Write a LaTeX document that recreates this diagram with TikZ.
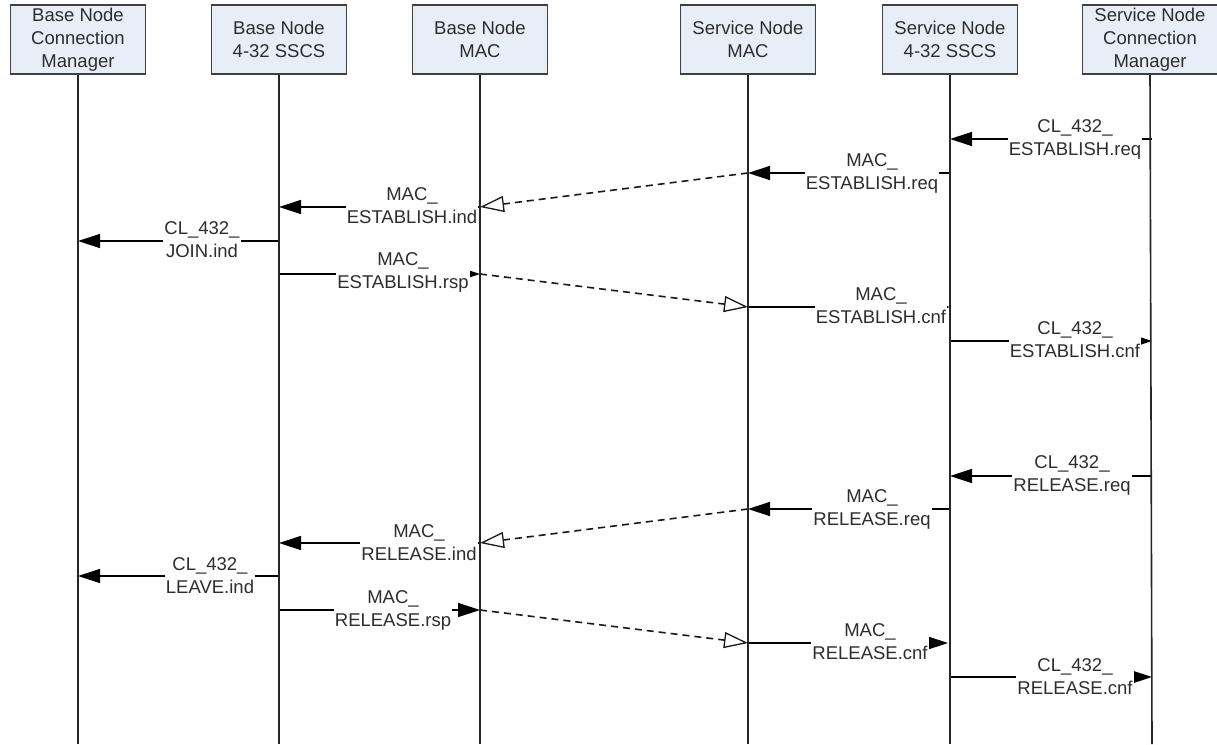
\documentclass[tikz,border=0pt]{standalone}
\usepackage{fontspec}
\setmainfont{Liberation Sans}
\usetikzlibrary{arrows.meta}
\definecolor{headfill}{RGB}{232,238,248}
\definecolor{ink}{RGB}{45,45,45}
\tikzset{
  header/.style={draw=black!75, line width=1.8pt, fill=headfill,
    minimum width=135pt, minimum height=69pt, inner sep=0pt, align=center,
    font=\fontsize{18.5}{23}\selectfont, text=ink, anchor=north},
  lifeline/.style={draw=black!85, line width=1.6pt},
  callmsg/.style={draw=black, line width=1.3pt,
    -{Triangle[length=22pt,width=14pt]}},
  signal/.style={draw=black!90, line width=1.6pt, dash pattern=on 7pt off 5pt,
    -{Triangle[open,length=24pt,width=16pt,line width=1.3pt]}},
  msglabel/.style={fill=white, inner sep=1pt, align=center,
    font=\fontsize{18.5}{23}\selectfont, text=ink},
}
\begin{document}
\begin{tikzpicture}[x=1pt,y=-1pt]
\useasboundingbox (0,0) rectangle (1217,744);

% participants
\node[header] (h1) at (78,4)   {Base Node\\Connection\\Manager};
\node[header] (h2) at (279,4)  {Base Node\\4-32 SSCS};
\node[header] (h3) at (480,4)  {Base Node\\MAC};
\node[header] (h4) at (748,4)  {Service Node\\MAC};
\node[header] (h5) at (950,4)  {Service Node\\4-32 SSCS};
\node[header] (h6) at (1150,4) {Service Node\\Connection\\Manager};

\coordinate (b1) at (78,744);
\coordinate (b2) at (279,744);
\coordinate (b3) at (480,744);
\coordinate (b4) at (748,744);
\coordinate (b5) at (950,744);
\coordinate (b6) at (1152,744);

% connection establishment
\coordinate (a1s) at (1152,139); \coordinate (a1e) at (950,139);
\coordinate (a2s) at (950,173);  \coordinate (a2e) at (748,173);
\coordinate (a3s) at (748,173);  \coordinate (a3e) at (480,207);
\coordinate (a4s) at (480,207);  \coordinate (a4e) at (279,207);
\coordinate (a5s) at (279,241);  \coordinate (a5e) at (78,241);
\coordinate (a6s) at (279,274);  \coordinate (a6e) at (480,274);
\coordinate (a7s) at (480,274);  \coordinate (a7e) at (748,307);
\coordinate (a8s) at (748,307);  \coordinate (a8e) at (950,307);
\coordinate (a9s) at (950,341);  \coordinate (a9e) at (1152,341);

\draw[callmsg] (a1s) -- (a1e);
\draw[callmsg] (a2s) -- (a2e);
\draw[signal]  (a3s) -- (a3e);
\draw[callmsg] (a4s) -- (a4e);
\draw[callmsg] (a5s) -- (a5e);
\draw[callmsg] (a6s) -- (a6e);
\draw[signal]  (a7s) -- (a7e);
\draw[callmsg] (a8s) -- (a8e);
\draw[callmsg] (a9s) -- (a9e);

% connection release
\coordinate (r1s) at (1152,476); \coordinate (r1e) at (950,476);
\coordinate (r2s) at (950,509);  \coordinate (r2e) at (748,509);
\coordinate (r3s) at (748,509);  \coordinate (r3e) at (480,543);
\coordinate (r4s) at (480,543);  \coordinate (r4e) at (279,543);
\coordinate (r5s) at (279,576);  \coordinate (r5e) at (78,576);
\coordinate (r6s) at (279,610);  \coordinate (r6e) at (480,610);
\coordinate (r7s) at (480,610);  \coordinate (r7e) at (748,643);
\coordinate (r8s) at (748,643);  \coordinate (r8e) at (948,643);
\coordinate (r9s) at (950,677);  \coordinate (r9e) at (1152,677);

\draw[callmsg] (r1s) -- (r1e);
\draw[callmsg] (r2s) -- (r2e);
\draw[signal]  (r3s) -- (r3e);
\draw[callmsg] (r4s) -- (r4e);
\draw[callmsg] (r5s) -- (r5e);
\draw[callmsg] (r6s) -- (r6e);
\draw[signal]  (r7s) -- (r7e);
\draw[callmsg] (r8s) -- (r8e);
\draw[callmsg] (r9s) -- (r9e);

% message labels
\node[msglabel] (la1) at (1075,139) {CL\_432\_\\ESTABLISH.req};
\node[msglabel] (la2) at (872,173)  {MAC\_\\ESTABLISH.req};
\node[msglabel] (la4) at (412,206)  {MAC\_\\ESTABLISH.ind};
\node[msglabel] (la5) at (202,240)  {CL\_432\_\\JOIN.ind};
\node[msglabel] (la6) at (403,272)  {MAC\_\\ESTABLISH.rsp};
\node[msglabel] (la8) at (881,306)  {MAC\_\\ESTABLISH.cnf};
\node[msglabel] (la9) at (1075,340) {CL\_432\_\\ESTABLISH.cnf};

\node[msglabel] (lr1) at (1072,475) {CL\_432\_\\RELEASE.req};
\node[msglabel] (lr2) at (872,509)  {MAC\_\\RELEASE.req};
\node[msglabel] (lr4) at (419,543)  {MAC\_\\RELEASE.ind};
\node[msglabel] (lr5) at (210,576)  {CL\_432\_\\LEAVE.ind};
\node[msglabel] (lr6) at (393,610)  {MAC\_\\RELEASE.rsp};
\node[msglabel] (lr8) at (870,642)  {MAC\_\\RELEASE.cnf};
\node[msglabel] (lr9) at (1075,677) {CL\_432\_\\RELEASE.cnf};

% lifelines
\draw[lifeline] (h1.south) -- (b1);
\draw[lifeline] (h2.south) -- (b2);
\draw[lifeline] (h3.south) -- (b3);
\draw[lifeline] (h4.south) -- (b4);
\draw[lifeline] (h5.south) -- (b5);
\draw[lifeline] (h6.south) -- (b6);
\end{tikzpicture}
\end{document}
